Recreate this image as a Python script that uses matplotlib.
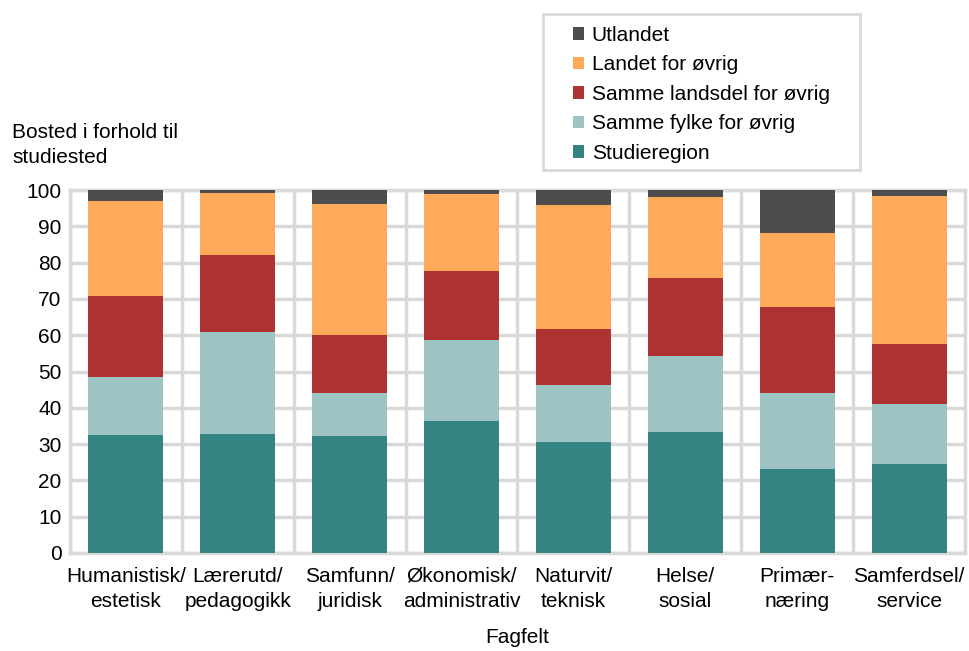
import matplotlib.pyplot as plt
from matplotlib.patches import Rectangle
import numpy as np

plt.rcParams['font.family'] = ['Liberation Sans', 'DejaVu Sans']

fagfelt = ["Humanistisk/\nestetisk", "Lærerutd/\npedagogikk", "Samfunn/\njuridisk",
           "Økonomisk/\nadministrativ", "Naturvit/\nteknisk", "Helse/\nsosial",
           "Primær-\nnæring", "Samferdsel/\nservice"]

studieregion = [32.6, 32.7, 32.1, 36.3, 30.7, 33.4, 23.2, 24.4]
samme_fylke = [15.9, 28.1, 11.9, 22.4, 15.6, 20.8, 20.8, 16.6]
samme_landsdel = [22.4, 21.2, 16.0, 19.0, 15.5, 21.6, 23.7, 16.7]
landet = [26.1, 17.1, 36.1, 21.3, 34.0, 22.4, 20.4, 40.7]
utlandet = [3.0, 0.9, 3.9, 1.0, 4.2, 1.8, 11.9, 1.6]

series = [
    ("Studieregion", studieregion, "#358484"),
    ("Samme fylke for øvrig", samme_fylke, "#9DC3C3"),
    ("Samme landsdel for øvrig", samme_landsdel, "#AD3333"),
    ("Landet for øvrig", landet, "#FFAA5B"),
    ("Utlandet", utlandet, "#4D4D4D"),
]

grid_col = "#D9D9D9"
fs = 15

fig = plt.figure(figsize=(9.7, 6.51), dpi=100)
ax = fig.add_axes([70 / 970, 98 / 651, 895 / 970, 363 / 651])

x = np.arange(len(fagfelt))
bottom = np.zeros(len(fagfelt))
handles = []
for name, vals, col in series:
    b = ax.bar(x, vals, bottom=bottom, width=0.67, color=col, label=name, zorder=3)
    handles.append(b)
    bottom += np.array(vals)

ax.set_xlim(-0.5, len(fagfelt) - 0.5)
ax.set_ylim(0, 100)
ax.set_yticks(range(0, 101, 10))
ax.set_xticks(x)
ax.set_xticklabels(fagfelt, fontsize=fs, linespacing=1.4)
ax.tick_params(axis='y', labelsize=fs, length=0, pad=6)
ax.tick_params(axis='x', length=0, pad=10)

# grid: horizontal every 10, vertical at category boundaries
for yv in range(0, 101, 10):
    ax.axhline(yv, color=grid_col, lw=2.5, zorder=1)
for xv in np.arange(-0.5, len(fagfelt), 1.0):
    ax.axvline(xv, color=grid_col, lw=2.5, zorder=1)
for s in ax.spines.values():
    s.set_color(grid_col)
    s.set_linewidth(2.5)

ax.set_xlabel("Fagfelt", fontsize=fs, labelpad=12)
fig.text(12 / 970, 1 - 123 / 651, "Bosted i forhold til\nstudiested", fontsize=fs,
         va='top', ha='left', linespacing=1.4)

# legend box
fig.patches.append(Rectangle((543 / 970, 1 - 170 / 651), 317 / 970, 156 / 651,
                             transform=fig.transFigure, facecolor='white',
                             edgecolor=grid_col, linewidth=2, zorder=0))
leg = fig.legend(handles[::-1], [s[0] for s in series][::-1],
                 loc='upper left', bbox_to_anchor=(573 / 970, 1 - 26 / 651),
                 fontsize=fs, frameon=False,
                 handlelength=0.55, handleheight=0.55, handletextpad=0.35,
                 borderpad=0, labelspacing=0.5, borderaxespad=0)

fig.savefig("out.png", dpi=100)
